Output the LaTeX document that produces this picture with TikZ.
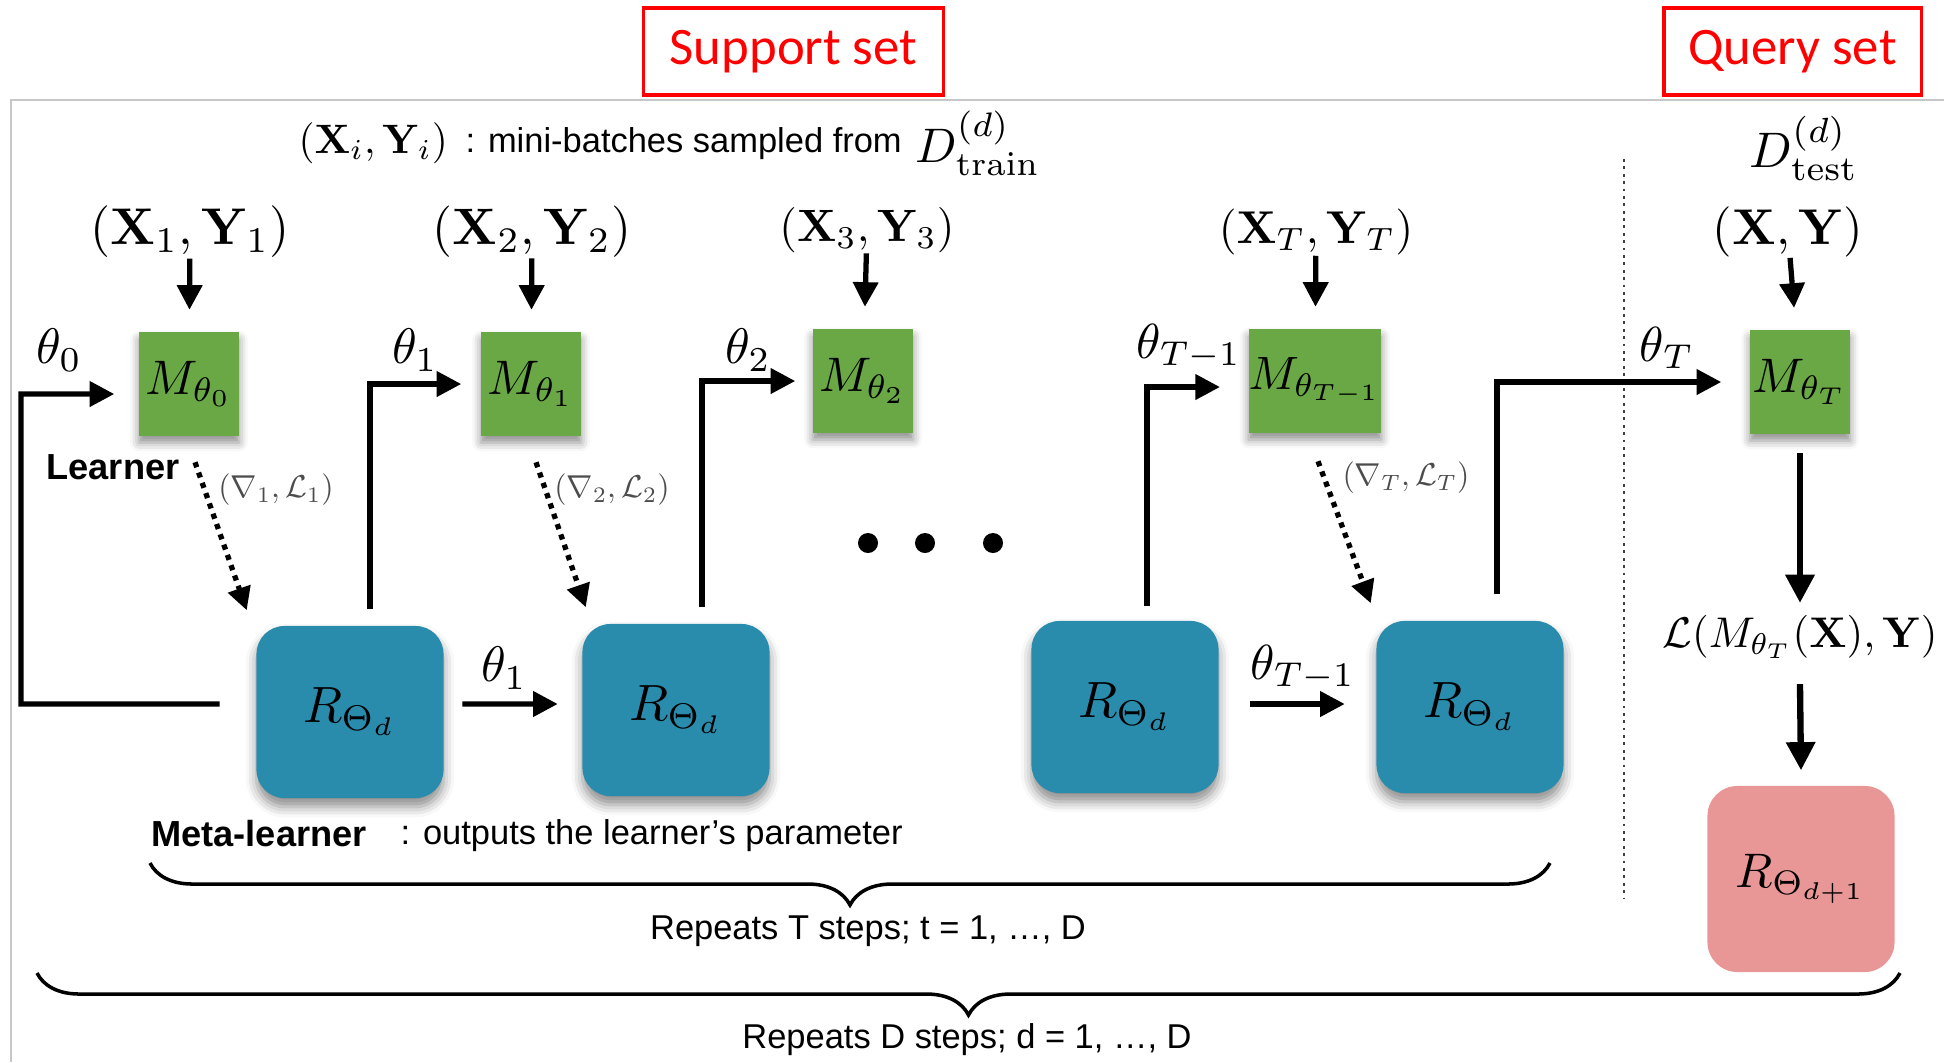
\documentclass[tikz,border=0pt]{standalone}
\usepackage[no-math]{fontspec}
\usepackage{amsmath}
\usepackage{graphicx}
\newfontfamily\arialf{Liberation Sans}
\newfontfamily\calibf{Carlito}
\usetikzlibrary{arrows.meta,decorations.pathreplacing,shadows.blur}

\definecolor{learnergreen}{HTML}{6AA846}
\definecolor{metablue}{HTML}{2A8CAC}
\definecolor{updpink}{HTML}{E89696}
\definecolor{setred}{HTML}{FF0000}

% 10pt math, enlarged as a whole
\newcommand{\mt}[2]{\scalebox{#1}{$#2$}}

\tikzset{
  mth/.style={inner sep=0pt},
  txt/.style={inner sep=0pt, font=\arialf\fontsize{9.8}{12}\selectfont},
  btxt/.style={inner sep=0pt, font=\arialf\bfseries\fontsize{10.3}{12}\selectfont},
  glab/.style={inner sep=0pt, text=black!70},
  learnerbox/.style={fill=learnergreen, minimum width=1.0cm, minimum height=1.03cm,
    inner sep=0pt,
    blur shadow={shadow xshift=0pt, shadow yshift=-2pt, shadow blur radius=2.5pt, shadow opacity=45}},
  metabox/.style={fill=metablue, rounded corners=0.28cm, minimum width=1.87cm,
    minimum height=1.72cm, inner sep=0pt,
    blur shadow={shadow xshift=0pt, shadow yshift=-2.5pt, shadow blur radius=3pt, shadow opacity=45}},
  pinkbox/.style={fill=updpink, rounded corners=0.3cm, minimum width=1.87cm,
    minimum height=1.86cm, inner sep=0pt},
  setbox/.style={draw=setred, line width=0.9pt, text=setred, inner sep=0pt,
    font=\calibf\fontsize{15}{18}\selectfont},
  arr/.style={line width=1.5pt, -{Triangle[length=7pt,width=7pt]}},
  qarr/.style={line width=1.8pt, -{Triangle[length=8pt,width=8pt]}},
  darr/.style={line width=1.5pt, dash pattern=on 1.5pt off 1.6pt,
    -{Triangle[length=6.5pt,width=6.5pt]}},
  brc/.style={decorate, decoration={brace, mirror, amplitude=0.42cm}, line width=1pt},
}

\begin{document}
\begin{tikzpicture}[x=0.01cm, y=-0.01cm]
\useasboundingbox (0,0) rectangle (1944,1062);

% outer frame
\draw[black!22, line width=0.5pt] (1944,100) -- (11,100) -- (11,1062);

% set labels
\node[setbox, minimum width=2.99cm, minimum height=0.87cm] (sup) at (793.5,51.5) {Support set};
\node[setbox, minimum width=2.57cm, minimum height=0.87cm] (qry) at (1792.5,51.5) {Query set};

% header line
\node[mth, anchor=base west] (xi) at (298,153) {\mt{1.17}{(\mathbf{X}_i,\mathbf{Y}_i)}};
\node[txt, anchor=base west] (mb) at (465,152) {: mini-batches sampled from};
\node[mth, anchor=base west] (dtr) at (915,162) {\mt{1.38}{D^{(d)}_{\mathrm{train}}}};
\node[mth] (dte) at (1804,148) {\mt{1.42}{D^{(d)}_{\mathrm{test}}}};

% separator between support and query parts
\draw[black!75, line width=0.8pt, dash pattern=on 0.8pt off 1.3pt] (1624,159) -- (1624,898);

% mini-batch inputs
\node[mth] (in1) at (190,232) {\mt{1.47}{(\mathbf{X}_1,\mathbf{Y}_1)}};
\node[mth] (in2) at (532,232) {\mt{1.46}{(\mathbf{X}_2,\mathbf{Y}_2)}};
\node[mth] (in3) at (867,230) {\mt{1.29}{(\mathbf{X}_3,\mathbf{Y}_3)}};
\node[mth] (inT) at (1316,232) {\mt{1.31}{(\mathbf{X}_T,\mathbf{Y}_T)}};
\node[mth] (inq) at (1788,232) {\mt{1.43}{(\mathbf{X},\mathbf{Y})}};

% learners
\node[learnerbox] (m0) at (189,384) {\mt{1.38}{M_{\theta_0}}};
\node[learnerbox] (m1) at (531,384) {\mt{1.38}{M_{\theta_1}}};
\node[learnerbox] (m2) at (863,381) {\mt{1.38}{M_{\theta_2}}};
\node[learnerbox] (mT1) at (1315,381) {\mt{1.33}{M_{\theta_{T-1}}}};
\node[learnerbox] (mT) at (1800,382) {\mt{1.38}{M_{\theta_T}}};

% meta-learners
\node[metabox] (r1) at (350,712) {\mt{1.45}{R_{\Theta_d}}};
\node[metabox] (r2) at (676,710) {\mt{1.45}{R_{\Theta_d}}};
\node[metabox] (r3) at (1125,707) {\mt{1.45}{R_{\Theta_d}}};
\node[metabox] (r4) at (1470,707) {\mt{1.45}{R_{\Theta_d}}};

% query branch
\node[mth] (loss) at (1800,637) {\mt{1.22}{\mathcal{L}(M_{\theta_T}(\mathbf{X}),\mathbf{Y})}};
\node[pinkbox] (rn) at (1801,879) {\mt{1.38}{R_{\Theta_{d+1}}}};

% inputs into learners
\foreach \a/\b in {in1/m0, in2/m1, in3/m2, inT/mT1, inq/mT}
  \draw[arr, shorten >=0.22cm] (\a) -- (\b);

% parameter flow
\coordinate (loop) at (21,394);
\draw[arr] ([xshift=-0.36cm,yshift=0.08cm]r1.west) -| (loop) -- ([xshift=-0.24cm,yshift=-0.1cm]m0.west);
\draw[arr] ([xshift=0.2cm,yshift=0.16cm]r1.north) |- ([xshift=-0.19cm]m1.west);
\draw[arr] ([xshift=0.26cm,yshift=0.16cm]r2.north) |- ([xshift=-0.17cm]m2.west);
\draw[arr] ([xshift=0.22cm,yshift=0.14cm]r3.north) |- ([xshift=-0.28cm,yshift=-0.06cm]mT1.west);
\draw[arr] ([xshift=0.27cm,yshift=0.26cm]r4.north) |- ([xshift=-0.28cm]mT.west);
\draw[arr] ([xshift=0.18cm,yshift=0.08cm]r1.east) -- ([xshift=-0.24cm,yshift=0.06cm]r2.west);
\draw[arr] ([xshift=0.31cm,yshift=0.03cm]r3.east) -- ([xshift=-0.31cm,yshift=0.03cm]r4.west);

\node[mth] (t0) at (59,350) {\mt{1.42}{\theta_0}};
\node[mth] (t1) at (415,350) {\mt{1.42}{\theta_1}};
\node[mth] (t2) at (748,350) {\mt{1.42}{\theta_2}};
\node[mth] (tT1) at (1189,347) {\mt{1.4}{\theta_{T-1}}};
\node[mth] (tT) at (1667,348) {\mt{1.4}{\theta_T}};
\node[mth] (h1) at (504,668) {\mt{1.42}{\theta_1}};
\node[mth] (hT1) at (1303,668) {\mt{1.4}{\theta_{T-1}}};

% gradients and losses fed to the meta-learner
\draw[darr] ([xshift=0.06cm,yshift=-0.26cm]m0.south) -- ([xshift=-0.09cm,yshift=0.15cm]r1.north west);
\draw[darr] ([xshift=0.05cm,yshift=-0.26cm]m1.south) -- ([xshift=0.04cm,yshift=0.16cm]r2.north west);
\draw[darr] ([xshift=0.03cm,yshift=-0.28cm]mT1.south) -- ([xshift=-0.05cm,yshift=0.17cm]r4.north west);
\node[glab] (g1) at (276,490) {\mt{0.9}{(\nabla_1,\mathcal{L}_1)}};
\node[glab] (g2) at (612,490) {\mt{0.9}{(\nabla_2,\mathcal{L}_2)}};
\node[glab] (gT) at (1406,478) {\mt{0.9}{(\nabla_T,\mathcal{L}_T)}};

% ellipsis
\fill (868,543) circle[radius=0.1cm];
\fill (925,543) circle[radius=0.1cm];
\fill (993,543) circle[radius=0.1cm];

% query evaluation
\draw[qarr] ([yshift=-0.19cm]mT.south) -- ([yshift=0.12cm]loss.north);
\draw[qarr] ([yshift=-0.25cm]loss.south) -- ([yshift=0.15cm]rn.north);

% role labels
\node[btxt] (lrn) at (113,467) {Learner};
\node[btxt] (mlrn) at (259,834) {Meta-learner};
\node[txt, anchor=west] (mdesc) at (400,836) {: outputs the learner’s parameter};

% repetition braces
\coordinate (b1s) at (150,863);
\coordinate (b1e) at (1550,863);
\coordinate (b2s) at (37,973);
\coordinate (b2e) at (1900,973);
\draw[brc] (b1s) -- (b1e);
\draw[brc] (b2s) -- (b2e);
\node[txt] (rep1) at (868,931) {Repeats T steps; t = 1, …, D};
\node[txt] (rep2) at (967,1040) {Repeats D steps; d = 1, …, D};
\end{tikzpicture}
\end{document}
